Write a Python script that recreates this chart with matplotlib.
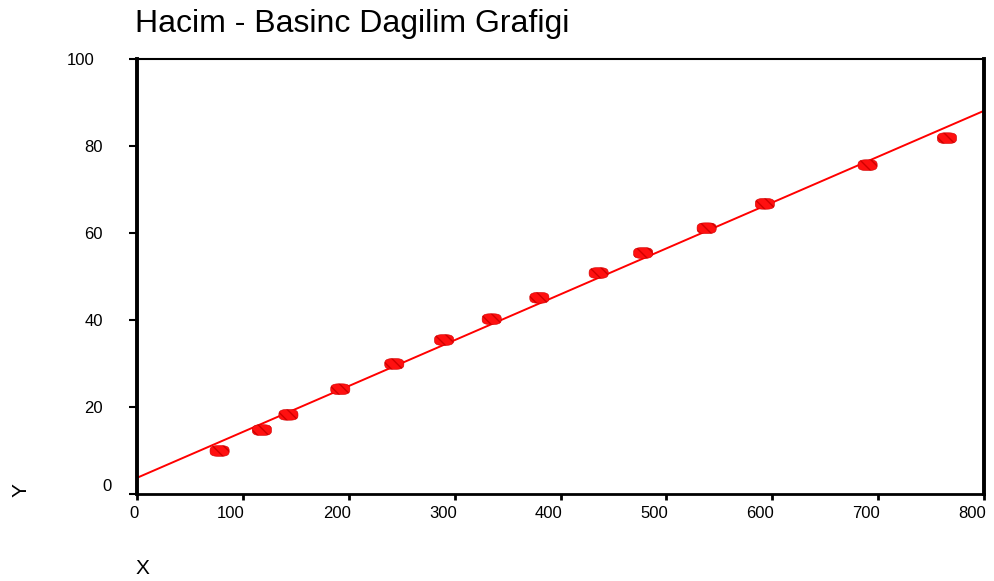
import matplotlib
matplotlib.use("Agg")
import matplotlib.pyplot as plt
import matplotlib.transforms as mtransforms
import numpy as np
from matplotlib.path import Path

plt.rcParams['font.family'] = ['Liberation Sans', 'DejaVu Sans']

hacim = [78, 118, 143, 192, 243, 290, 335, 380, 436, 478, 538, 593, 690, 765]
basinc = [9.9, 14.7, 18.2, 24.1, 29.9, 35.4, 40.2, 45.1, 50.8, 55.4, 61.1, 66.7, 75.6, 81.8]
x_ticks = [0, 100, 200, 300, 400, 500, 600, 700, 800]
y_ticks = [0, 20, 40, 60, 80, 100]
title = "Hacim - Basinc Dagilim Grafigi"

# rounded rectangle marker
t = np.linspace(0, 2 * np.pi, 80)
n = 3
mx = np.sign(np.cos(t)) * np.abs(np.cos(t)) ** (2 / n)
my = 0.56 * np.sign(np.sin(t)) * np.abs(np.sin(t)) ** (2 / n)
verts = np.column_stack([mx, my])
marker = Path(np.vstack([verts, verts[:1]]), closed=True)

fig = plt.figure(figsize=(9.95, 5.81), dpi=100)
ax = fig.add_axes([0.1377, 0.1497, 0.8513, 0.7488])

coef = np.polyfit(hacim, basinc, 1)
xl = np.array([0, 800])
ax.plot(xl, np.polyval(coef, xl), color='red', lw=1.4, zorder=2)
ax.scatter(hacim, basinc, marker=marker, s=190, facecolor='#ff1010',
           edgecolor='#d00000', linewidths=0.4, hatch='\\\\\\', zorder=3)

ax.set_xlim(0, 800)
ax.set_ylim(0, 100)
ax.set_xticks(x_ticks)
ax.set_yticks(y_ticks)
ax.tick_params(axis='y', direction='out', length=6, width=1.5, labelsize=12, pad=18.5)
ax.tick_params(axis='x', direction='out', length=4, width=2, labelsize=12, pad=4.5)
for lab in ax.get_xticklabels():
    lab.set_horizontalalignment('right')
    lab.set_transform(lab.get_transform() + mtransforms.ScaledTranslation(0.02, 0, fig.dpi_scale_trans))
ylabs = ax.get_yticklabels()
ylabs[0].set_transform(ylabs[0].get_transform() + mtransforms.ScaledTranslation(0.09, 0.09, fig.dpi_scale_trans))
ylabs[-1].set_transform(ylabs[-1].get_transform() + mtransforms.ScaledTranslation(-0.08, 0, fig.dpi_scale_trans))
for side, w in [('left', 2.8), ('right', 2.8), ('top', 1.5), ('bottom', 2.0)]:
    ax.spines[side].set_linewidth(w)

fig.text(0.136, 0.958, title, fontsize=23, ha='left', va='center')
fig.text(0.021, 0.157, "Y", rotation=90, fontsize=15, ha='center', va='center')
fig.text(0.143, 0.022, "X", fontsize=15, ha='center', va='center')

fig.savefig("out.png", dpi=100)
